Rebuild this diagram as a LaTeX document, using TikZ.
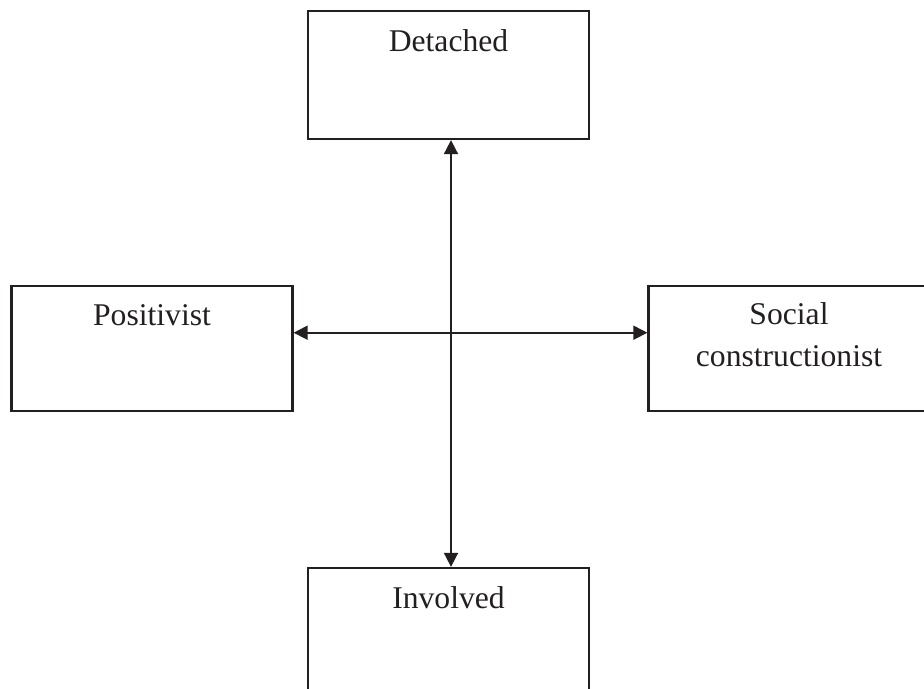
\documentclass[tikz,border=0pt]{standalone}
\usepackage{fontspec}
\setmainfont{Liberation Serif}
\usetikzlibrary{arrows.meta,calc}
\definecolor{ink}{HTML}{231F20}

\begin{document}
\begin{tikzpicture}[x=0.02cm,y=-0.02cm]
        \tikzstyle{every node}=[font=\fontsize{18}{24.4}\selectfont, text=ink]
        \tikzstyle{stance}=[draw=ink, line width=1.3pt, minimum width=5.62cm, inner sep=0pt]
        \tikzstyle{caption}=[anchor=base, align=center, inner sep=0pt]
        \tikzstyle{link}=[draw=ink, line width=1pt, {Triangle[length=0.28cm,width=0.28cm]}-{Triangle[length=0.28cm,width=0.28cm]}]
        \useasboundingbox (0,0) rectangle (924,689);

        \node[stance, minimum height=2.56cm] (detached) at (448.5,75) {};
        \node[caption] (detachedtext) at ($(detached.north)+(0,42)$) {Detached};

        \node[stance, minimum height=2.5cm] (positivist) at (152,348.5) {};
        \node[caption] (positivisttext) at ($(positivist.north)+(0,41)$) {Positivist};

        \node[stance, minimum height=2.5cm] (social) at (789,348.5) {};
        \node[caption] (socialtext) at ($(social.north)+(0,82)$) {Social\\constructionist};

        \node[stance, minimum height=2.56cm] (involved) at (448.5,632) {};
        \node[caption] (involvedtext) at ($(involved.north)+(0,42)$) {Involved};

        \draw[link] ([xshift=0.05cm]detached.south) -- ([xshift=0.05cm]involved.north);
        \draw[link] ($(positivist.north east)!0.376!(positivist.south east)$)
            -- ($(social.north west)!0.376!(social.south west)$);
    \end{tikzpicture}
\end{document}
